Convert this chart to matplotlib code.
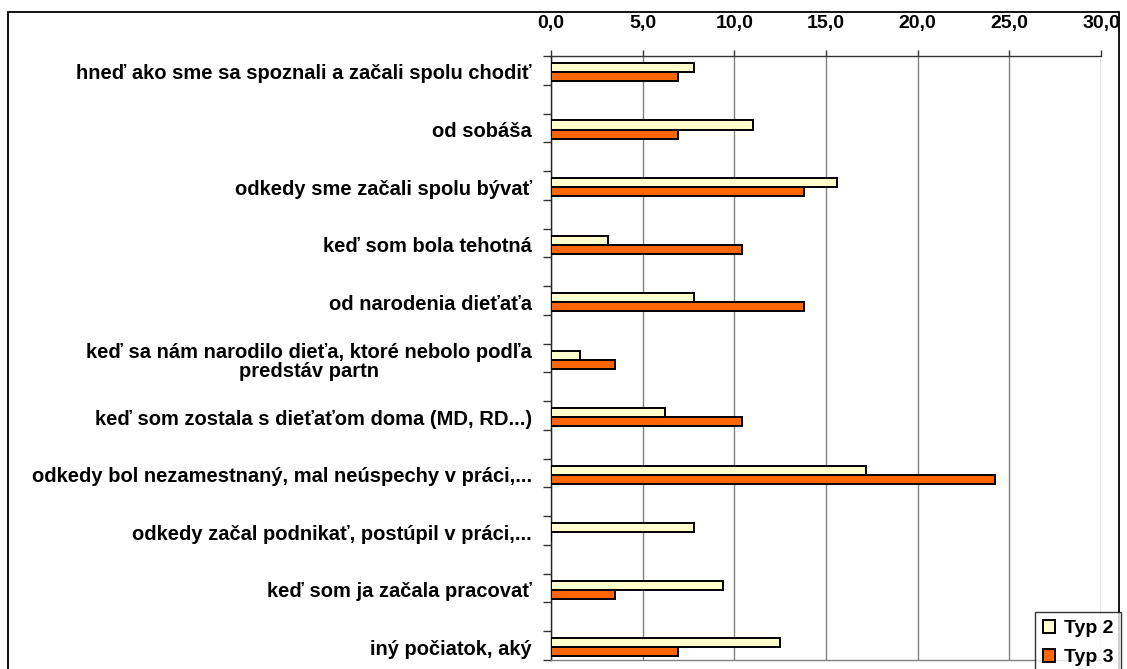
import numpy as np
import matplotlib
matplotlib.use('Agg')
import matplotlib.pyplot as plt
from matplotlib.patches import Rectangle
from matplotlib.ticker import FuncFormatter

categories = [
    'hneď ako sme sa spoznali a začali spolu chodiť',
    'od sobáša',
    'odkedy sme začali spolu bývať',
    'keď som bola tehotná',
    'od narodenia dieťaťa',
    'keď sa nám narodilo dieťa, ktoré nebolo podľa\npredstáv partn',
    'keď som zostala s dieťaťom doma (MD, RD...)',
    'odkedy bol nezamestnaný, mal neúspechy v práci,...',
    'odkedy začal podnikať, postúpil v práci,...',
    'keď som ja začala pracovať',
    'iný počiatok, aký',
]
typ2 = [7.8, 11.0, 15.6, 3.1, 7.8, 1.6, 6.2, 17.2, 7.8, 9.4, 12.5]
typ3 = [6.9, 6.9, 13.8, 10.4, 13.8, 3.5, 10.4, 24.2, 0.0, 3.5, 6.9]
xticks = [0, 5, 10, 15, 20, 25, 30]

plt.rcParams['font.family'] = ['Liberation Sans', 'DejaVu Sans']

fig = plt.figure(figsize=(11.27, 6.69), dpi=100)
ax = fig.add_axes([551/1127, 1 - 660/669, 550/1127, 604/669])

# outer frame of the chart area
fig.patches.append(Rectangle((8/1127, -0.05), 1111/1127, 1.05 - 12/669,
                             transform=fig.transFigure, fill=False,
                             edgecolor='black', linewidth=1.3))

base = np.arange(len(categories)) + 0.278
h = 0.157
ax.barh(base - h/2, typ2, height=h, color='#FFFFCC', edgecolor='black',
        linewidth=1.4, label='Typ 2', zorder=3)
ax.barh(base + h/2, typ3, height=h, color='#FF6600', edgecolor='black',
        linewidth=1.4, label='Typ 3', zorder=3)

ax.set_xlim(0, 30)
ax.set_ylim(10.5, 0)
ax.xaxis.tick_top()
ax.set_xticks(xticks)
ax.xaxis.set_major_formatter(FuncFormatter(lambda v, p: f'{v:.1f}'.replace('.', ',')))
ax.tick_params(axis='x', length=4, width=1, color='#333333', pad=13,
               labelsize=14)
for t in ax.get_xticklabels():
    t.set_fontweight('bold')

ax.set_yticks(base)
ax.set_yticklabels(categories, fontweight='bold', fontsize=14.5,
                   multialignment='center', linespacing=1.0)
ax.set_yticks(np.arange(0, 10.51, 0.5), minor=True)
ax.tick_params(axis='y', which='major', length=0, pad=13.7)
ax.tick_params(axis='y', which='minor', length=6, width=1, color='#333333', direction='out')

ax.grid(axis='x', color='#808080', linewidth=1, zorder=0)
ax.spines['right'].set_visible(False)
ax.spines['left'].set_color('#222222')
ax.spines['top'].set_color('#333333')
ax.spines['bottom'].set_color('#808080')
for s in ax.spines.values():
    s.set_linewidth(1)

leg = fig.legend(loc='upper left', bbox_to_anchor=(1035/1127, 1 - 612/669),
                 frameon=True, fancybox=False, edgecolor='black',
                 prop={'weight': 'bold', 'size': 14}, handlelength=0.65,
                 handleheight=0.65, handletextpad=0.45, borderpad=0.4,
                 labelspacing=0.62, borderaxespad=0)
leg.get_frame().set_linewidth(1)

fig.savefig('out.png', dpi=100)
